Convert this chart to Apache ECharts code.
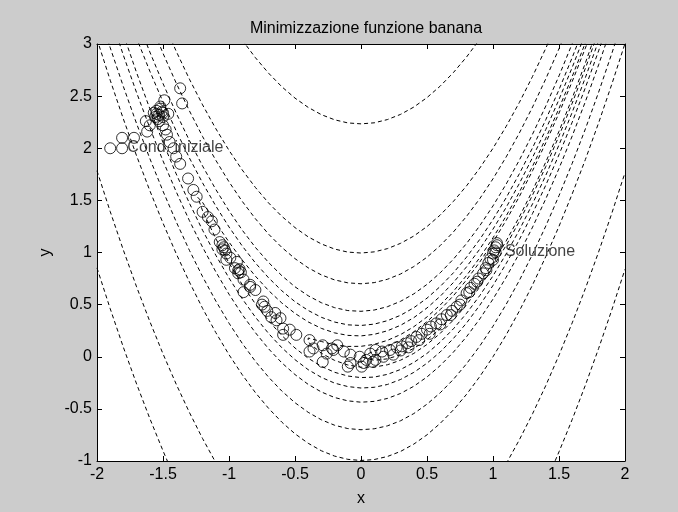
<!DOCTYPE html>
<html>
<head>
<meta charset="utf-8">
<title>Minimizzazione funzione banana</title>
<script src="https://cdn.jsdelivr.net/npm/echarts@6/dist/echarts.min.js"></script>
<style>
	html, body { margin: 0; padding: 0; background: #cccccc; }
	#chart { width: 678px; height: 512px; }
</style>
</head>
<body>
<div id="chart"></div>
<script>
// tick labels of the two axes
const xTicks = [-2, -1.5, -1, -0.5, 0, 0.5, 1, 1.5, 2]
const yTicks = [-1, -0.5, 0, 0.5, 1, 1.5, 2, 2.5, 3]

// contour lines (dashed), one array per visible piece
const lev1000a = [[-2,0.852],[-1.9,0.461],[-1.8,0.09],[-1.7,-0.261],[-1.6,-0.592],[-1.5,-0.902],[-1.45,-1.05]]
const lev1000b = [[1.45,-1.06],[1.5,-0.912],[1.6,-0.602],[1.7,-0.272],[1.8,0.079],[1.9,0.449],[2,0.839]]

const lev500a = [[-2,1.784],[-1.9,1.393],[-1.8,1.022],[-1.7,0.67],[-1.6,0.339],[-1.5,0.028],[-1.4,-0.263],[-1.3,-0.534],[-1.2,-0.785],[-1.1,-1.016]]
const lev500b = [[1.1,-1.026],[1.2,-0.796],[1.3,-0.546],[1.4,-0.276],[1.5,0.015],[1.6,0.325],[1.7,0.655],[1.8,1.005],[1.9,1.376],[2,1.766]]
const lev500c = [[-0.9,3.038],[-0.8,2.869],[-0.7,2.72],[-0.6,2.59],[-0.5,2.481],[-0.4,2.392],[-0.3,2.322],[-0.2,2.273],[-0.1,2.243],[0,2.234],
	[0.1,2.244],[0.2,2.275],[0.3,2.325],[0.4,2.395],[0.5,2.486],[0.6,2.596],[0.7,2.726],[0.8,2.876],[0.9,3.046]]

const lev100a = [[-1.5,3.218],[-1.4,2.931],[-1.3,2.663],[-1.2,2.416],[-1.1,2.188],[-1,1.98],[-0.9,1.792],[-0.8,1.624],[-0.7,1.475],[-0.6,1.347],
	[-0.5,1.239],[-0.4,1.15],[-0.3,1.082],[-0.2,1.033],[-0.1,1.004],[0,0.995],[0.1,1.006],[0.2,1.037],[0.3,1.088],[0.4,1.158],[0.5,1.249],
	[0.6,1.359],[0.7,1.49],[0.8,1.64],[0.9,1.81],[1,2],[1.1,2.21],[1.2,2.44],[1.3,2.69],[1.4,2.959],[1.5,3.249]]
const lev100b = [[-2,3.046],[-1.9,2.653],[-1.8,2.28],[-1.7,1.927],[-1.6,1.594],[-1.5,1.282],[-1.4,0.989],[-1.3,0.717],[-1.2,0.464],[-1.1,0.232],
	[-1,0.02],[-0.9,-0.172],[-0.8,-0.344],[-0.7,-0.495],[-0.6,-0.627],[-0.5,-0.739],[-0.4,-0.83],[-0.3,-0.902],[-0.2,-0.953],[-0.1,-0.984],
	[0,-0.995],[0.1,-0.986],[0.2,-0.957],[0.3,-0.908],[0.4,-0.838],[0.5,-0.749],[0.6,-0.639],[0.7,-0.51],[0.8,-0.36],[0.9,-0.19],[1,0],
	[1.1,0.21],[1.2,0.44],[1.3,0.69],[1.4,0.961],[1.5,1.251],[1.6,1.562],[1.7,1.892],[1.8,2.243],[1.9,2.614],[2,3.005]]

const lev50a = [[-1.6,3.218],[-1.5,2.911],[-1.4,2.625],[-1.3,2.359],[-1.2,2.112],[-1.1,1.885],[-1,1.678],[-0.9,1.491],[-0.8,1.324],[-0.7,1.176],
	[-0.6,1.049],[-0.5,0.941],[-0.4,0.853],[-0.3,0.785],[-0.2,0.737],[-0.1,0.709],[0,0.7],[0.1,0.711],[0.2,0.743],[0.3,0.794],[0.4,0.865],
	[0.5,0.955],[0.6,1.066],[0.7,1.197],[0.8,1.347],[0.9,1.517],[1,1.707],[1.1,1.917],[1.2,2.147],[1.3,2.396],[1.4,2.666],[1.5,2.955],[1.6,3.265]]
const lev50b = [[-2,3.36],[-1.9,2.965],[-1.8,2.591],[-1.7,2.236],[-1.6,1.902],[-1.5,1.589],[-1.4,1.295],[-1.3,1.021],[-1.2,0.768],[-1.1,0.535],
	[-1,0.322],[-0.9,0.129],[-0.8,-0.044],[-0.7,-0.196],[-0.6,-0.329],[-0.5,-0.441],[-0.4,-0.533],[-0.3,-0.605],[-0.2,-0.657],[-0.1,-0.689],
	[0,-0.7],[0.1,-0.691],[0.2,-0.663],[0.3,-0.614],[0.4,-0.545],[0.5,-0.455],[0.6,-0.346],[0.7,-0.217],[0.8,-0.067],[0.9,0.103],[1,0.293],
	[1.1,0.503],[1.2,0.733],[1.3,0.984],[1.4,1.254],[1.5,1.545],[1.6,1.855],[1.7,2.186],[1.8,2.537],[1.9,2.909],[2,3.3]]

const lev20a = [[-1.7,3.247],[-1.6,2.924],[-1.5,2.621],[-1.4,2.337],[-1.3,2.074],[-1.2,1.829],[-1.1,1.605],[-1,1.4],[-0.9,1.215],[-0.8,1.049],
	[-0.7,0.904],[-0.6,0.778],[-0.5,0.671],[-0.4,0.585],[-0.3,0.518],[-0.2,0.471],[-0.1,0.443],[0,0.436],[0.1,0.448],[0.2,0.48],[0.3,0.532],
	[0.4,0.603],[0.5,0.694],[0.6,0.805],[0.7,0.936],[0.8,1.087],[0.9,1.257],[1,1.447],[1.1,1.657],[1.2,1.887],[1.3,2.136],[1.4,2.405],
	[1.5,2.694],[1.6,3.003],[1.7,3.332]]
const lev20b = [[-1.9,3.27],[-1.8,2.891],[-1.7,2.533],[-1.6,2.196],[-1.5,1.879],[-1.4,1.583],[-1.3,1.306],[-1.2,1.051],[-1.1,0.815],[-1,0.6],
	[-0.9,0.405],[-0.8,0.231],[-0.7,0.076],[-0.6,-0.058],[-0.5,-0.171],[-0.4,-0.265],[-0.3,-0.338],[-0.2,-0.391],[-0.1,-0.423],[0,-0.436],
	[0.1,-0.428],[0.2,-0.4],[0.3,-0.352],[0.4,-0.283],[0.5,-0.194],[0.6,-0.085],[0.7,0.044],[0.8,0.193],[0.9,0.363],[1,0.553],[1.1,0.763],
	[1.2,0.993],[1.3,1.244],[1.4,1.515],[1.5,1.806],[1.6,2.117],[1.7,2.448],[1.8,2.8],[1.9,3.172]]

const lev10a = [[-1.8,3.387],[-1.7,3.055],[-1.6,2.74],[-1.5,2.444],[-1.4,2.166],[-1.3,1.907],[-1.2,1.667],[-1.1,1.446],[-1,1.245],[-0.9,1.063],
	[-0.8,0.9],[-0.7,0.757],[-0.6,0.633],[-0.5,0.528],[-0.4,0.444],[-0.3,0.378],[-0.2,0.333],[-0.1,0.306],[0,0.3],[0.1,0.313],[0.2,0.346],
	[0.3,0.398],[0.4,0.47],[0.5,0.562],[0.6,0.674],[0.7,0.805],[0.8,0.956],[0.9,1.126],[1,1.316],[1.1,1.526],[1.2,1.756],[1.3,2.005],
	[1.4,2.274],[1.5,2.562],[1.6,2.87],[1.7,3.198]]
const lev10b = [[-1.8,3.093],[-1.7,2.725],[-1.6,2.38],[-1.5,2.056],[-1.4,1.754],[-1.3,1.473],[-1.2,1.213],[-1.1,0.974],[-1,0.755],[-0.9,0.557],
	[-0.8,0.38],[-0.7,0.223],[-0.6,0.087],[-0.5,-0.028],[-0.4,-0.124],[-0.3,-0.198],[-0.2,-0.253],[-0.1,-0.286],[0,-0.3],[0.1,-0.293],
	[0.2,-0.266],[0.3,-0.218],[0.4,-0.15],[0.5,-0.062],[0.6,0.046],[0.7,0.175],[0.8,0.324],[0.9,0.494],[1,0.684],[1.1,0.894],[1.2,1.124],
	[1.3,1.375],[1.4,1.646],[1.5,1.938],[1.6,2.25],[1.7,2.582],[1.8,2.934],[1.9,3.307]]

// the three inner contours close on the left
const lev5 = [[1.8,3.449],[1.7,3.102],[1.6,2.775],[1.5,2.468],[1.4,2.18],[1.3,1.912],[1.2,1.663],[1.1,1.433],[1,1.224],[0.9,1.033],[0.8,0.863],
	[0.7,0.712],[0.6,0.58],[0.5,0.468],[0.4,0.375],[0.3,0.302],[0.2,0.249],[0.1,0.215],[0,0.2],[-0.1,0.205],[-0.2,0.229],[-0.3,0.272],
	[-0.4,0.334],[-0.5,0.416],[-0.6,0.516],[-0.7,0.635],[-0.8,0.773],[-0.9,0.928],[-1,1.1],[-1.1,1.287],[-1.2,1.48],[-1.236,1.528],
	[-1.2,1.4],[-1.1,1.133],[-1,0.9],[-0.9,0.692],[-0.8,0.507],[-0.7,0.345],[-0.6,0.204],[-0.5,0.084],[-0.4,-0.014],[-0.3,-0.092],
	[-0.2,-0.149],[-0.1,-0.185],[0,-0.2],[0.1,-0.195],[0.2,-0.169],[0.3,-0.122],[0.4,-0.055],[0.5,0.032],[0.6,0.14],[0.7,0.268],[0.8,0.417],
	[0.9,0.587],[1,0.776],[1.1,0.987],[1.2,1.217],[1.3,1.468],[1.4,1.74],[1.5,2.032],[1.6,2.345],[1.7,2.678],[1.8,3.031]]
const lev2 = [[1.8,3.357],[1.7,3.013],[1.6,2.688],[1.5,2.382],[1.4,2.096],[1.3,1.828],[1.2,1.58],[1.1,1.351],[1,1.141],[0.9,0.951],[0.8,0.78],
	[0.7,0.628],[0.6,0.496],[0.5,0.382],[0.4,0.288],[0.3,0.213],[0.2,0.157],[0.1,0.119],[0,0.1],[-0.1,0.099],[-0.2,0.115],[-0.3,0.146],
	[-0.4,0.18],[-0.414,0.171],[-0.4,0.14],[-0.3,0.034],[-0.2,-0.035],[-0.1,-0.079],[0,-0.1],[0.1,-0.099],[0.2,-0.077],[0.3,-0.033],
	[0.4,0.032],[0.5,0.118],[0.6,0.224],[0.7,0.352],[0.8,0.5],[0.9,0.669],[1,0.859],[1.1,1.069],[1.2,1.3],[1.3,1.552],[1.4,1.824],
	[1.5,2.118],[1.6,2.432],[1.7,2.767],[1.8,3.123]]
const lev1 = [[1.8,3.3],[1.7,2.961],[1.6,2.64],[1.5,2.337],[1.4,2.052],[1.3,1.785],[1.2,1.538],[1.1,1.309],[1,1.1],[0.9,0.909],[0.8,0.738],
	[0.7,0.585],[0.6,0.452],[0.5,0.337],[0.4,0.24],[0.3,0.161],[0.2,0.1],[0.1,0.054],[0,0],[0.1,-0.034],[0.2,-0.02],[0.3,0.019],[0.4,0.08],
	[0.5,0.163],[0.6,0.268],[0.7,0.395],[0.8,0.542],[0.9,0.711],[1,0.9],[1.1,1.111],[1.2,1.342],[1.3,1.595],[1.4,1.868],[1.5,2.163],
	[1.6,2.48],[1.7,2.819],[1.8,3.18]]

// iterates of the minimisation (circles), from the start point to the solution
const path = [
	[-1.90,2.00],[-1.81,2.00],[-1.81,2.10],[-1.72,2.10],[-1.62,2.16],[-1.63,2.26],[-1.60,2.22],
	[-1.56,2.30],[-1.55,2.36],[-1.53,2.32],[-1.57,2.34],[-1.52,2.38],[-1.54,2.28],[-1.50,2.34],[-1.53,2.26],[-1.50,2.30],
	[-1.52,2.40],[-1.55,2.33],[-1.51,2.35],[-1.49,2.46],[-1.46,2.33],[-1.37,2.575],[-1.355,2.43],
	[-1.50,2.22],[-1.48,2.18],[-1.47,2.13],[-1.45,2.06],[-1.42,2.00],[-1.40,1.92],[-1.37,1.85],[-1.31,1.71],[-1.27,1.60],[-1.245,1.535],
	[-1.20,1.39],[-1.16,1.34],[-1.13,1.30],[-1.11,1.22],[-1.07,1.10],[-1.05,1.07],[-1.04,1.05],[-1.03,1.02],[-1.02,0.99],[-1.05,1.03],
	[-1.02,0.93],[-0.99,0.95],[-0.94,0.91],[-0.955,0.85],[-0.93,0.83],[-0.91,0.81],[-0.93,0.80],[-0.92,0.84],[-0.89,0.74],
	[-0.84,0.69],[-0.84,0.67],[-0.89,0.62],[-0.80,0.64],[-0.75,0.50],[-0.74,0.53],[-0.73,0.48],[-0.71,0.44],[-0.68,0.38],
	[-0.65,0.42],[-0.64,0.35],[-0.61,0.37],[-0.59,0.21],[-0.59,0.27],[-0.54,0.26],[-0.49,0.21],[-0.39,0.16],[-0.39,0.05],
	[-0.36,0.08],[-0.29,0.11],[-0.29,-0.05],[-0.26,0.03],[-0.22,0.08],[-0.21,0.065],[-0.18,0.11],[-0.13,0.05],[-0.08,0.02],
	[-0.08,-0.06],[-0.10,-0.095],[-0.01,0.0],[0.02,-0.06],[0.005,-0.095],[0.04,-0.03],[0.07,0.03],[0.09,-0.05],[0.11,0.065],
	[0.11,-0.03],[0.16,0.05],[0.17,0.0],[0.22,0.065],[0.245,0.02],
	[0.27,0.09],[0.30,0.06],[0.31,0.10],[0.35,0.13],[0.36,0.09],[0.38,0.15],[0.42,0.19],[0.44,0.16],[0.46,0.22],[0.50,0.26],
	[0.52,0.22],[0.53,0.29],[0.57,0.32],[0.60,0.31],[0.61,0.36],[0.65,0.40],[0.68,0.40],[0.69,0.44],[0.725,0.48],[0.75,0.50],
	[0.76,0.54],[0.80,0.61],[0.82,0.62],[0.83,0.66],[0.86,0.70],[0.88,0.72],[0.89,0.75],[0.925,0.80],[0.945,0.85],[0.95,0.83],
	[0.965,0.90],[0.98,0.94],[1.0,0.93],[1.0,0.99],[1.01,1.02],[1.02,1.0],[1.02,1.05],[1.03,1.07],[1.03,1.09]
]

// text annotations
const noteText = ['Cond. iniziale', 'Soluzione']
const notePos = [[-1.77, 2.01], [1.09, 1.01]]

const contours = [lev1000a, lev1000b, lev500a, lev500b, lev500c, lev100a, lev100b, lev50a, lev50b,
	lev20a, lev20b, lev10a, lev10b, lev5, lev2, lev1]

let font = 'Liberation Sans, Arial, sans-serif'

let myChart = echarts.init(document.getElementById('chart'), null, { renderer: 'canvas' })

// shared axis settings (box with ticks inside on all four sides)
let axisBase = {
	type: 'value',
	axisLine: { show: true, onZero: false, lineStyle: { color: '#000', width: 1 } },
	axisTick: { show: true, inside: true, length: 5, lineStyle: { color: '#000' } },
	splitLine: { show: false }
}

let series = contours.map(function (d) {
	return {
		type: 'line',
		data: d,
		symbol: 'none',
		silent: true,
		clip: true,
		lineStyle: { color: '#000', width: 1, type: [4, 3] },
		z: 2
	}
})

series.push({
	type: 'scatter',
	data: path,
	symbol: 'circle',
	symbolSize: 11,
	itemStyle: { color: 'rgba(0,0,0,0)', borderColor: '#000', borderWidth: 1 },
	z: 3
})

series.push({
	type: 'scatter',
	data: notePos.map(function (p, i) { return { name: noteText[i], value: p } }),
	symbolSize: 0,
	label: {
		show: true,
		position: 'right',
		distance: 0,
		formatter: '{b}',
		color: '#111',
		fontSize: 16,
		fontFamily: font
	},
	z: 4
})

let option = {
	animation: false,
	backgroundColor: '#cccccc',
	title: {
		text: 'Minimizzazione funzione banana',
		left: 361,
		top: 16,
		textAlign: 'center',
		textStyle: { fontSize: 16, fontWeight: 'normal', color: '#000', fontFamily: font }
	},
	grid: {
		left: 97, right: 53, top: 44, bottom: 51,
		show: true, backgroundColor: '#fff', borderWidth: 0
	},
	xAxis: [
		Object.assign({}, axisBase, {
			position: 'bottom',
			min: xTicks[0], max: xTicks[xTicks.length - 1], interval: xTicks[1] - xTicks[0],
			name: 'x', nameLocation: 'middle', nameGap: 30,
			nameTextStyle: { fontSize: 16, color: '#000', fontFamily: font },
			axisLabel: { margin: 6, fontSize: 16, color: '#000', fontFamily: font }
		}),
		Object.assign({}, axisBase, {
			position: 'top',
			min: xTicks[0], max: xTicks[xTicks.length - 1], interval: xTicks[1] - xTicks[0],
			axisLabel: { show: false }
		})
	],
	yAxis: [
		Object.assign({}, axisBase, {
			position: 'left',
			min: yTicks[0], max: yTicks[yTicks.length - 1], interval: yTicks[1] - yTicks[0],
			name: 'y', nameLocation: 'middle', nameGap: 36,
			nameTextStyle: { fontSize: 16, color: '#000', fontFamily: font },
			axisLabel: { margin: 5, fontSize: 16, color: '#000', fontFamily: font }
		}),
		Object.assign({}, axisBase, {
			position: 'right',
			min: yTicks[0], max: yTicks[yTicks.length - 1], interval: yTicks[1] - yTicks[0],
			axisLabel: { show: false }
		})
	],
	series: series
}

myChart.setOption(option)
</script>
</body>
</html>
